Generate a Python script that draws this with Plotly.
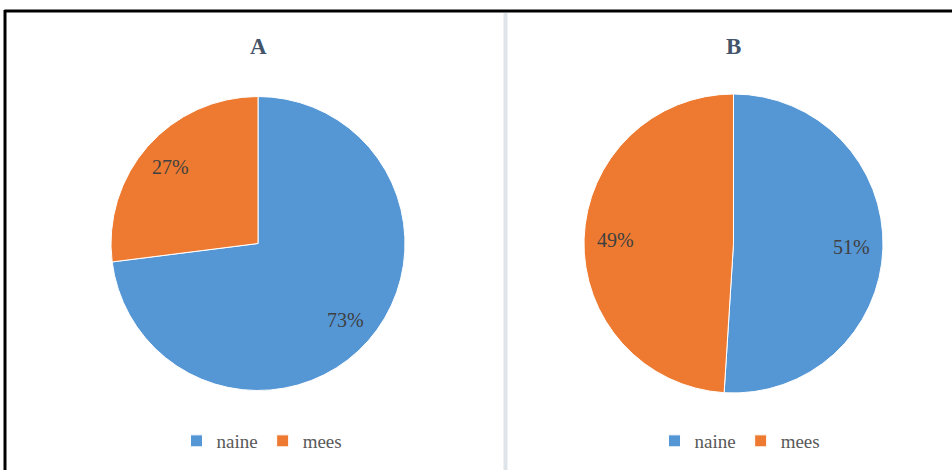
import math
import plotly.graph_objects as go

# ---- data ----
labels = ["naine", "mees"]
values_a = [73, 27]
values_b = [51, 49]
titles = ["A", "B"]
colors = ["#5596d5", "#ed7a30"]

W, H = 952, 470

# pie geometry in pixels (center x, center y, radius)
geo = [(258, 243.5, 147), (733.5, 243.5, 149.5)]

fig = go.Figure()
annotations = []
for i, (vals, title) in enumerate(zip([values_a, values_b], titles)):
    cx, cy, r = geo[i]
    dom_x = [(cx - r) / W, (cx + r) / W]
    dom_y = [1 - (cy + r) / H, 1 - (cy - r) / H]
    # pie legends de-duplicate identical labels across traces, so the
    # second chart's labels carry an invisible zero-width suffix
    lab = labels if i == 0 else [l + "\u200b" for l in labels]
    fig.add_trace(go.Pie(
        labels=lab, values=vals, sort=False, direction="clockwise", rotation=0,
        marker=dict(colors=colors, line=dict(color="white", width=1)),
        textinfo="none", hoverinfo="label+percent",
        domain=dict(x=dom_x, y=dom_y),
        legend="legend" if i == 0 else "legend2",
        showlegend=True,
    ))
    # data labels at ~0.79 r along each slice's mid angle
    total = sum(vals)
    start = 0.0
    for v in vals:
        frac = v / total
        mid = (start + frac / 2) * 2 * math.pi
        start += frac
        px = cx + 0.79 * r * math.sin(mid)
        py = cy - 0.79 * r * math.cos(mid)
        annotations.append(dict(
            x=px / W, y=1 - py / H, xref="paper", yref="paper",
            text=f"{round(frac * 100)}%", showarrow=False,
            font=dict(family="Liberation Serif", size=20, color="#404040"),
            xanchor="center", yanchor="middle"))
    annotations.append(dict(
        x=cx / W, y=1 - 47 / H, xref="paper", yref="paper",
        text=f"<b>{title}</b>", showarrow=False,
        font=dict(family="Liberation Serif", size=23, color="#44546a"),
        xanchor="center", yanchor="middle"))

legend_style = dict(orientation="h", yanchor="middle", xanchor="center",
                    y=1 - 441 / H, bgcolor="rgba(0,0,0,0)",
                    font=dict(family="Liberation Serif", size=19, color="#595959"),
                    itemwidth=30, traceorder="normal")

shapes = [
    # outer black frame (top and left edges)
    dict(type="line", xref="paper", yref="paper", x0=4.5 / W, x1=1.0, y0=1 - 11 / H, y1=1 - 11 / H,
         line=dict(color="black", width=3)),
    dict(type="line", xref="paper", yref="paper", x0=5 / W, x1=5 / W, y0=0, y1=1 - 10 / H,
         line=dict(color="black", width=3)),
    # divider between the two charts
    dict(type="line", xref="paper", yref="paper", x0=505.5 / W, x1=505.5 / W, y0=0, y1=1 - 13 / H,
         line=dict(color="#dfe3ea", width=4)),
]

fig.update_layout(
    width=W, height=H, margin=dict(l=0, r=0, t=0, b=0),
    paper_bgcolor="white", plot_bgcolor="white",
    annotations=annotations, shapes=shapes,
    legend=dict(x=262 / W, **legend_style),
    legend2=dict(x=740 / W, **legend_style),
)

fig.write_html("out.html")
